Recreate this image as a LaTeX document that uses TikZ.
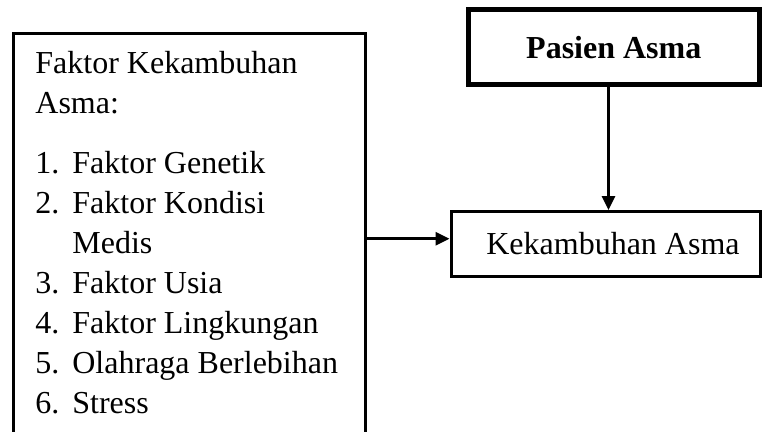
\documentclass[tikz,border=0pt]{standalone}
\usepackage{fontspec}
\setmainfont{Liberation Serif}
\usetikzlibrary{arrows.meta}

\tikzset{
    box/.style={draw, line width=1.5pt, inner sep=0pt},
    arr/.style={-{Triangle[length=7pt,width=6.5pt]}, line width=1.5pt}
}
\newcommand{\itemno}[1]{\makebox[18.5pt][l]{#1}}

\begin{document}
\begin{tikzpicture}[x=1pt, y=1pt, font=\fontsize{16pt}{20pt}\selectfont]
    \clip (0,0) rectangle (381,216);

    % Left box (runs past the bottom edge)
    \node[box, anchor=north west, minimum width=176pt, minimum height=204.75pt] (faktor) at (5.75,199.75) {};
    \node[anchor=north west, align=left, inner sep=0pt] (faktortext) at (17.5,190.4) {%
        Faktor Kekambuhan\\
        Asma:\\[10pt]
        \itemno{1.}Faktor Genetik\\
        \itemno{2.}Faktor Kondisi\\
        \itemno{}Medis\\
        \itemno{3.}Faktor Usia\\
        \itemno{4.}Faktor Lingkungan\\
        \itemno{5.}Olahraga Berlebihan\\
        \itemno{6.}Stress};

    % Top right box
    \node[box, line width=2.5pt, minimum width=145.75pt, minimum height=37.25pt] (pasien) at (306.9,192.4) {\textbf{Pasien Asma}};

    % Result box
    \node[box, minimum width=154.5pt, minimum height=32.25pt] (kek) at (302.75,94.1) {\hspace*{7.5pt}Kekambuhan Asma};

    % Arrows
    \draw[arr] (faktor.east) -- (faktor.east -| kek.west);
    \draw[arr] ([xshift=1.5pt]pasien.south -| kek.north) -- ([xshift=1.5pt]kek.north);
\end{tikzpicture}
\end{document}
